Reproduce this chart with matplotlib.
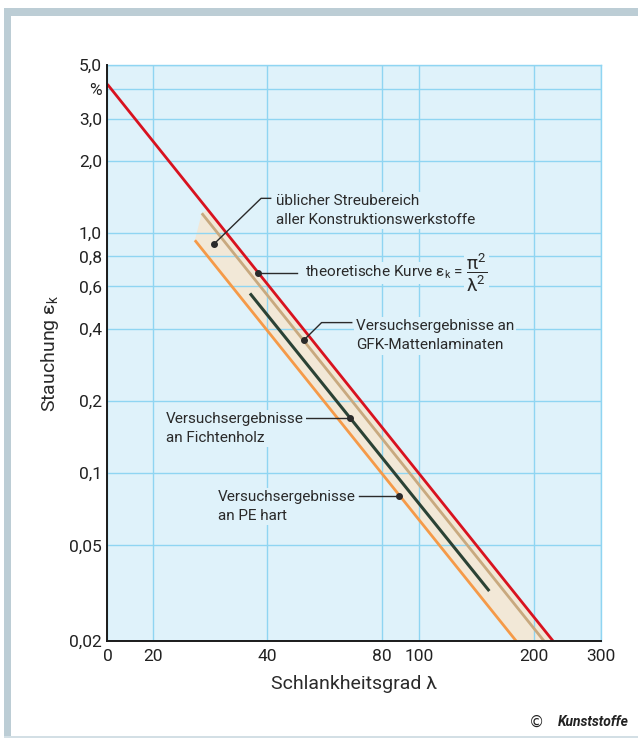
import matplotlib
matplotlib.use("Agg")
import matplotlib.pyplot as plt
from matplotlib.patches import Rectangle
from matplotlib.ticker import FixedLocator, NullLocator

# font setup
plt.rcParams['font.family'] = ['Roboto', 'DejaVu Sans']
plt.rcParams['mathtext.fontset'] = 'custom'
plt.rcParams['mathtext.rm'] = 'Roboto'
plt.rcParams['mathtext.it'] = 'Roboto:italic'

# data (lambda, strain in %)
red_lam = [15.2, 225]          # theoretische Kurve
red_eps = [4.17, 0.02]
gfk_lam = [26.9, 213]          # GFK-Mattenlaminate
gfk_eps = [1.21, 0.02]
pe_lam = [25.8, 180]           # PE hart
pe_eps = [0.934, 0.02]
holz_lam = [36.0, 153]         # Fichtenholz
holz_eps = [0.561, 0.0323]
band_corner = (27.8, 1.25)     # where the scatter band meets the red curve

xticks = [15.2, 20, 40, 80, 100, 200, 300]
xlabels = ['0', '20', '40', '80', '100', '200', '300']
yticks = [5, 4, 3, 2, 1, 0.8, 0.6, 0.4, 0.2, 0.1, 0.05, 0.02]
ylabels = ['5,0', '%', '3,0', '2,0', '1,0', '0,8', '0,6', '0,4', '0,2', '0,1', '0,05', '0,02']

bg = '#dff2fa'
grid_c = '#8fd5f2'

fig = plt.figure(figsize=(6.38, 7.38), dpi=100)
ax = fig.add_axes([0.1683, 0.1314, 0.7732, 0.7801])
ax.set_facecolor(bg)
ax.set_xscale('log')
ax.set_yscale('log')
ax.set_xlim(15.2, 300)
ax.set_ylim(0.02, 5)

ax.xaxis.set_major_locator(FixedLocator(xticks))
ax.xaxis.set_minor_locator(NullLocator())
ax.yaxis.set_major_locator(FixedLocator(yticks))
ax.yaxis.set_minor_locator(NullLocator())
ax.set_xticklabels(xlabels)
ax.set_yticklabels(ylabels)
ax.tick_params(length=0, labelsize=12.5, colors='#222222', pad=4)
ax.tick_params(axis='x', pad=6)
ax.set_axisbelow(True)
ax.grid(True, color=grid_c, lw=1.0)

for s in ['top', 'right']:
    ax.spines[s].set_color(grid_c)
    ax.spines[s].set_linewidth(1.0)
for s in ['left', 'bottom']:
    ax.spines[s].set_color('#1a1a1a')
    ax.spines[s].set_linewidth(1.4)
    ax.spines[s].set_zorder(5)

# scatter band
band_x = [pe_lam[0], gfk_lam[0], band_corner[0], red_lam[1], pe_lam[1]]
band_y = [pe_eps[0], gfk_eps[0], band_corner[1], red_eps[1], pe_eps[1]]
ax.fill(band_x, band_y, color='#f2e8d7', zorder=0.4, lw=0)

ax.plot(pe_lam, pe_eps, color='#f59a48', lw=2.0, zorder=2, solid_capstyle='butt')
ax.plot(gfk_lam, gfk_eps, color='#c8a97f', lw=2.0, zorder=2, solid_capstyle='butt')
ax.plot(holz_lam, holz_eps, color='#2b4235', lw=2.2, zorder=2, solid_capstyle='butt')
ax.plot(red_lam, red_eps, color='#d8121f', lw=2.0, zorder=2.5, solid_capstyle='butt')

# leader lines with dots
tcol = '#2a2a2a'
box = dict(facecolor=bg, edgecolor='none', pad=1.5)
fs = 11

def leader(xs, ys):
    ax.plot(xs, ys, color=tcol, lw=1.0, zorder=3)
    ax.plot(xs[0], ys[0], 'o', color=tcol, ms=4, zorder=3)

leader([28.96, 38.5, 40.8], [0.901, 1.396, 1.396])
ax.text(42.1, 1.24, 'üblicher Streubereich\naller Konstruktionswerkstoffe',
        fontsize=fs, color=tcol, va='center', ha='left', linespacing=1.45,
        bbox=box, zorder=4)

leader([37.85, 47.9], [0.684, 0.684])
ax.text(50.2, 0.684, 'theoretische Kurve $\\mathrm{\u03b5_k}$ =',
        fontsize=fs, color=tcol, va='center', ha='left', bbox=box, zorder=4)
ax.text(133, 0.684, '$\\dfrac{\\mathrm{\u03c0}^2}{\\mathrm{\u03bb}^2}$',
        fontsize=13.5, color=tcol, va='center', ha='left', bbox=box, zorder=4)

leader([49.9, 55.5, 66.6], [0.359, 0.424, 0.424])
ax.text(68.2, 0.373, 'Versuchsergebnisse an\nGFK-Mattenlaminaten',
        fontsize=fs, color=tcol, va='center', ha='left', linespacing=1.45,
        bbox=box, zorder=4)

leader([65.9, 50.5], [0.170, 0.170])
ax.text(21.66, 0.153, 'Versuchsergebnisse\nan Fichtenholz',
        fontsize=fs, color=tcol, va='center', ha='left', linespacing=1.45,
        bbox=box, zorder=4)

leader([88.8, 69.6], [0.0806, 0.0806])
ax.text(29.7, 0.0727, 'Versuchsergebnisse\nan PE hart',
        fontsize=fs, color=tcol, va='center', ha='left', linespacing=1.45,
        bbox=box, zorder=4)

ax.set_xlabel('Schlankheitsgrad \u03bb', fontsize=14, color=tcol, labelpad=8)
ax.set_ylabel('Stauchung $\\mathrm{\u03b5_k}$', fontsize=14, color=tcol)
ax.yaxis.set_label_coords(-0.094, 0.5)

# frame around the figure
fcol = '#bccdd5'
fig.add_artist(Rectangle((0.0063, 0.9787), 1.0, 0.0105, transform=fig.transFigure,
                         facecolor=fcol, edgecolor='none'))
fig.add_artist(Rectangle((0.0063, 0.0), 0.0116, 0.9892, transform=fig.transFigure,
                         facecolor=fcol, edgecolor='none'))
fig.add_artist(Rectangle((0.0063, 0.0), 1.0, 0.0027, transform=fig.transFigure,
                         facecolor='#d3dfe5', edgecolor='none'))

fig.text(0.985, 0.0217, 'Kunststoffe', fontsize=10, fontweight='bold',
         fontstyle='italic', ha='right', va='center', color='#222222')
fig.text(0.841, 0.0217, '\u00a9', fontsize=11, ha='center', va='center',
         color='#222222', family='DejaVu Sans')

fig.savefig('out.png', dpi=100, facecolor='white')
